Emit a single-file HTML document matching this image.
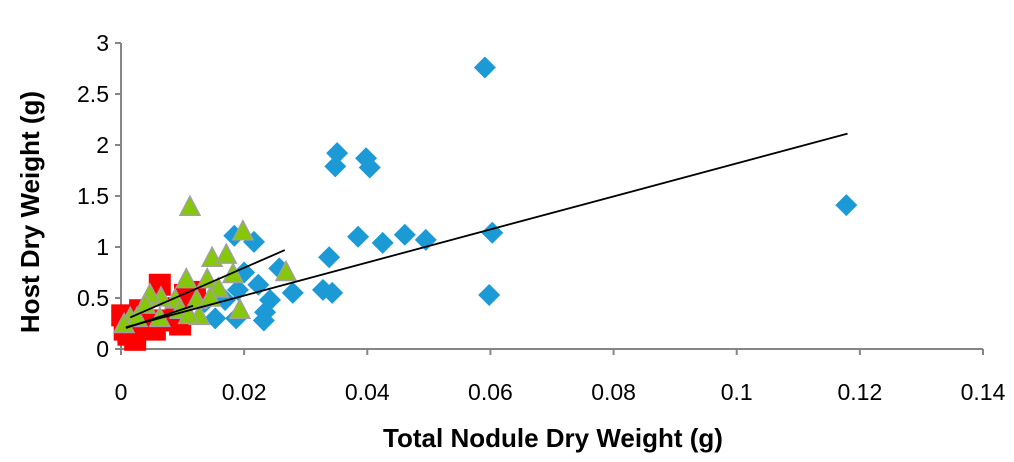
<!DOCTYPE html>
<html><head><meta charset="utf-8"><style>
body{margin:0;background:#fff;}
svg text{font-family:"Liberation Sans",sans-serif;}
</style></head><body>
<svg id="chart" width="1014" height="457" xmlns="http://www.w3.org/2000/svg"></svg>
<script>
const xTicks=[0,0.02,0.04,0.06,0.08,0.1,0.12,0.14];
const yTicks=[0,0.5,1,1.5,2,2.5,3];
const blueX=[0.0591,0.1178,0.0351,0.0348,0.0398,0.0404,0.0385,0.0425,0.0461,0.0495,0.0603,0.0598,0.0338,0.0328,0.0343,0.0279,0.0232,0.0184,0.0216,0.0200,0.0257,0.019,0.0187,0.0153,0.0169,0.0242,0.0234,0.0136,0.0223];
const blueY=[2.76,1.41,1.92,1.79,1.87,1.78,1.10,1.04,1.12,1.07,1.14,0.53,0.90,0.58,0.55,0.55,0.28,1.11,1.05,0.75,0.79,0.58,0.30,0.30,0.48,0.48,0.36,0.46,0.63];
const redX=[0.0063,0.0015,0.0023,0.0006,0.0047,0.008,0.0096,0.0104,0.012,0.0031,0.0002,0.0055,0.0039,0.009,0.0012];
const redY=[0.63,0.24,0.09,0.19,0.28,0.28,0.24,0.53,0.56,0.38,0.33,0.19,0.26,0.40,0.14];
const greenX=[0.0112,0.0198,0.0148,0.0171,0.0182,0.0268,0.0193,0.014,0.0106,0.0158,0.0123,0.0088,0.0065,0.0047,0.0039,0.0015,0.0026,0.0063,0.0096,0.0127,0.011,0.0145,0.0005];
const greenY=[1.39,1.15,0.89,0.92,0.73,0.75,0.38,0.68,0.68,0.59,0.48,0.48,0.50,0.53,0.43,0.30,0.30,0.30,0.38,0.32,0.33,0.50,0.24];
const blueTrend=[0.0008,0.118,16.2,0.20];
const greenTrend=[0.0015,0.0266,26.3,0.27];
const redTrend=[0.0008,0.0117,20,0.19];

const svg=document.getElementById('chart');
const NS='http://www.w3.org/2000/svg';
const X0=121,X1=983,Y0=349,Y1=43;
const sx=v=>X0+v/0.14*(X1-X0);
const sy=v=>Y0-v/3*(Y0-Y1);
function mk(tag,attrs,parent){const e=document.createElementNS(NS,tag);for(const k in attrs)e.setAttribute(k,attrs[k]);(parent||svg).appendChild(e);return e;}
const ax=mk('g',{});


let l=mk('line',{x1:X0,y1:Y1,x2:X0,y2:Y0,stroke:'#868686','stroke-width':2},ax);


l=mk('line',{x1:X0,y1:Y0,x2:X1,y2:Y0,stroke:'#868686','stroke-width':2},ax);


yTicks.forEach(t=>{
 mk('line',{x1:X0-6,y1:sy(t),x2:X0,y2:sy(t),stroke:'#868686','stroke-width':2},ax);
 const tx=mk('text',{x:X0-12,y:sy(t)+8,'text-anchor':'end','font-size':23,fill:'#000'},ax);
 tx.textContent=t;
 
 
});
xTicks.forEach(t=>{
 mk('line',{x1:sx(t),y1:Y0,x2:sx(t),y2:Y0+6,stroke:'#868686','stroke-width':2},ax);
 const tx=mk('text',{x:sx(t),y:400,'text-anchor':'middle','font-size':23,fill:'#000'},ax);
 tx.textContent=t;
 
 
});
let tt=mk('text',{x:553,y:447,'text-anchor':'middle','font-size':26,'font-weight':'bold'});
tt.textContent='Total Nodule Dry Weight (g)';


tt=mk('text',{x:0,y:0,'text-anchor':'middle','font-size':26,'font-weight':'bold',transform:'translate(39,212) rotate(-90)'});
tt.textContent='Host Dry Weight (g)';



const gb=mk('g',{});


blueX.forEach((v,i)=>{const cx=sx(v),cy=sy(blueY[i]);
 const p=mk('polygon',{points:`${cx},${cy-11} ${cx+11},${cy} ${cx},${cy+11} ${cx-11},${cy}`,fill:'#1b9ad6'},gb);
 
 });
const gr=mk('g',{});


redX.forEach((v,i)=>{const cx=sx(v),cy=sy(redY[i]);
 const p=mk('rect',{x:cx-11,y:cy-11,width:22,height:22,fill:'#ff0000'},gr);
 
 });
const gg=mk('g',{});


greenX.forEach((v,i)=>{const cx=sx(v),cy=sy(greenY[i]);
 const p=mk('polygon',{points:`${cx},${cy-11} ${cx+10},${cy+8} ${cx-10},${cy+8}`,fill:'#86c70a',stroke:'#a0a0a0','stroke-width':1.5},gg);
 
 });
[[blueTrend,'blue-trendline'],[greenTrend,'green-trendline'],[redTrend,'red-trendline']].forEach(([t,n])=>{
 const ln=mk('line',{x1:sx(t[0]),y1:sy(t[3]+t[2]*t[0]),x2:sx(t[1]),y2:sy(t[3]+t[2]*t[1]),stroke:'#000','stroke-width':1.8});
 
 
});
</script>
</body></html>
